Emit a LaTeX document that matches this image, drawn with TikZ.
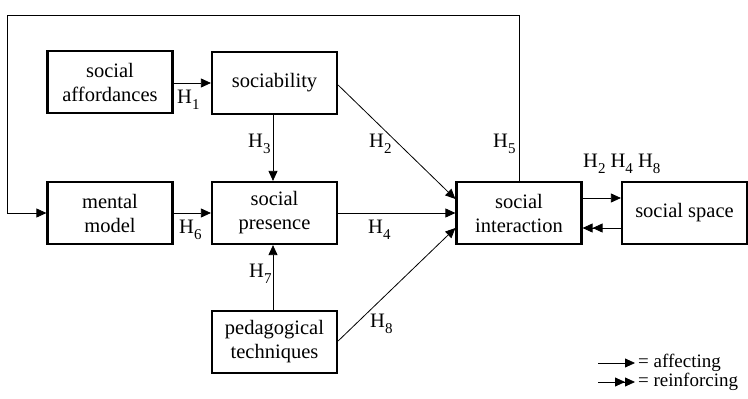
\documentclass[tikz,border=0pt]{standalone}
\usepackage{fontspec}
\setmainfont{Liberation Serif}
\usetikzlibrary{arrows.meta}
\newcommand{\hyp}[1]{H\raisebox{-0.32em}{\fontsize{15}{15}\selectfont #1}}
\tikzset{
  factor/.style={draw, line width=2.2pt, minimum width=125pt, minimum height=62pt,
    align=center, inner sep=0pt, font=\fontsize{20.5}{24}\selectfont},
  link/.style={line width=0.8pt, -{Triangle[length=10pt,width=9pt]}},
  dlink/.style={line width=0.8pt, -{Triangle[length=10pt,width=9pt]Triangle[length=10pt,width=9pt]}},
  hlab/.style={anchor=base west, inner sep=0pt, font=\fontsize{20.5}{24}\selectfont},
  legtext/.style={anchor=west, inner sep=0pt, text height=11pt, text depth=3pt,
    font=\fontsize{19}{21}\selectfont},
}
\begin{document}
\begin{tikzpicture}[x=1pt,y=-1pt]
\useasboundingbox (0,0) rectangle (748,399);
% factor boxes
\node[factor] (aff) at (110,82) {social\\affordances};
\node[factor] (soc) at (274.5,83) {sociability};
\node[factor] (mm) at (110,213) {mental\\model};
\node[factor] (sp) at (274.5,213) {social\\presence};
\node[factor] (si) at (519,213) {social\\interaction};
\node[factor] (ss) at (684.5,213) {social space};
\node[factor] (pt) at (274.5,342) {pedagogical\\techniques};
% feedback loop from social interaction back to the mental model
\coordinate (tr) at (519,15);
\coordinate (tl) at (7,15);
\draw[link] (si.north) -- (tr) -- (tl) |- (mm.west);
% influences
\draw[link] (aff.east |- 0,83) -- (soc.west |- 0,83);
\draw[link] (soc.south -| 273,0) -- (sp.north -| 273,0);
\draw[link] (pt.north -| 273,0) -- (sp.south -| 273,0);
\draw[link] (mm.east) -- (sp.west);
\draw[link] (sp.east) -- (si.west);
\draw[link] (soc.east |- 0,85) -- (si.west |- 0,199);
\draw[link] (pt.east |- 0,341) -- (si.west |- 0,228);
\draw[link] (si.east |- 0,198) -- (ss.west |- 0,198);
\draw[dlink] (ss.west |- 0,228) -- (si.east |- 0,228);
% hypothesis labels
\node[hlab] (h1) at (177,103) {\hyp{1}};
\node[hlab] (h3) at (248,147) {\hyp{3}};
\node[hlab] (h2) at (369,147) {\hyp{2}};
\node[hlab] (h5) at (493,147) {\hyp{5}};
\node[hlab] (h6) at (179,233) {\hyp{6}};
\node[hlab] (h4) at (368,233) {\hyp{4}};
\node[hlab] (h7) at (249,277) {\hyp{7}};
\node[hlab] (h8) at (370,327) {\hyp{8}};
\node[hlab] (h248) at (583,167) {\hyp{2} \hyp{4} \hyp{8}};
% legend
\coordinate (la1) at (598,363);
\coordinate (la2) at (635,363);
\coordinate (lb1) at (598,382);
\coordinate (lb2) at (635,382);
\draw[link] (la1) -- (la2);
\draw[dlink] (lb1) -- (lb2);
\node[legtext] (leg1) at (638,363) {= affecting};
\node[legtext] (leg2) at (638,382) {= reinforcing};
\end{tikzpicture}
\end{document}
